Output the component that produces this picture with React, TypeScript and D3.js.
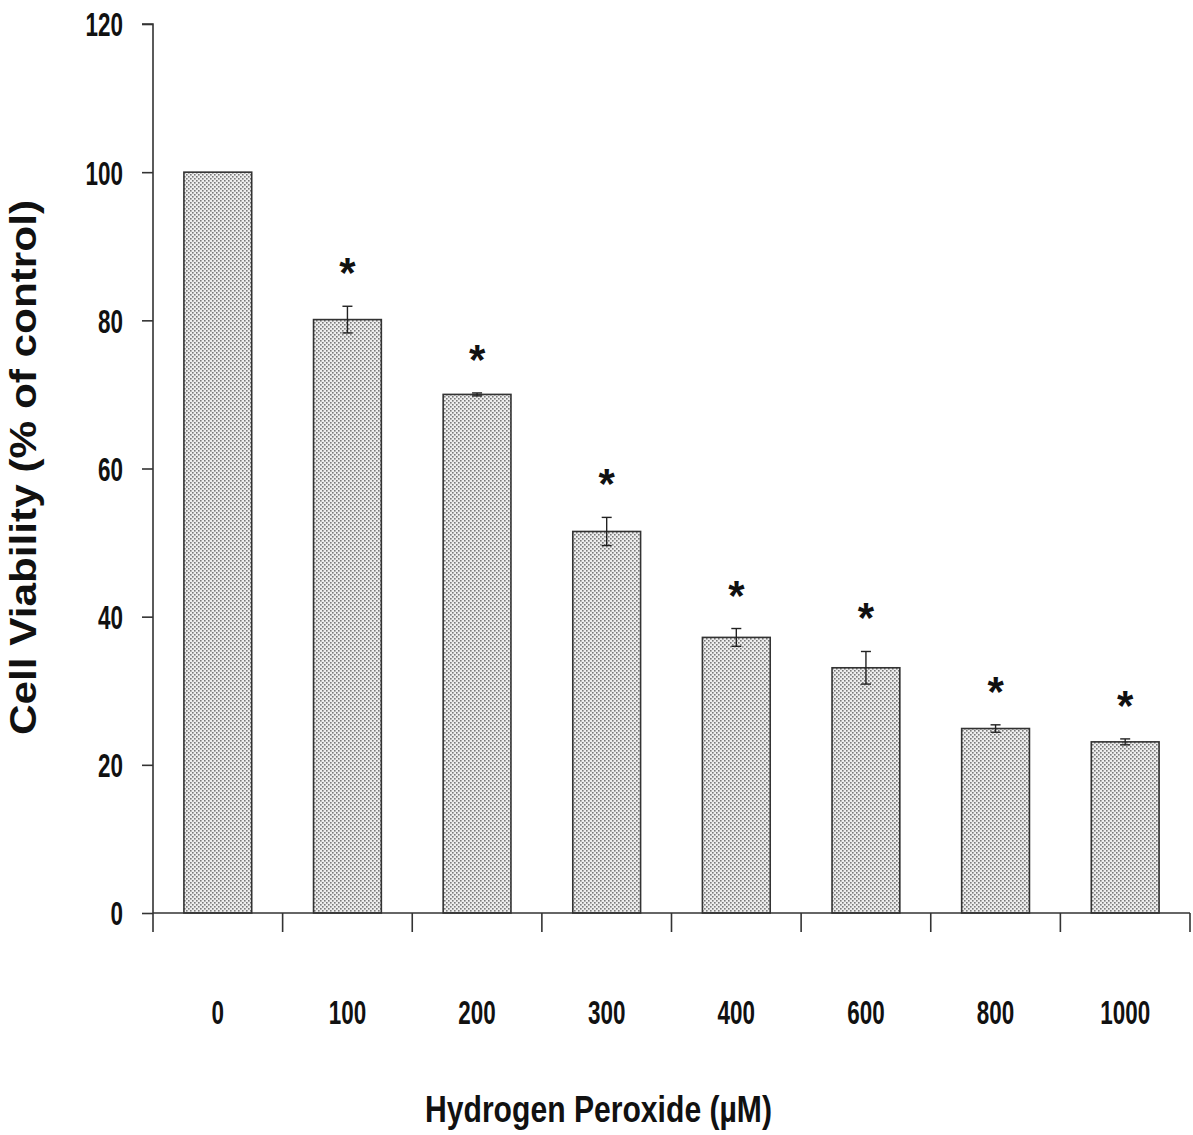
import React, { useEffect, useRef } from "react";
import * as d3 from "d3";

// data
const doses = ["0", "100", "200", "300", "400", "600", "800", "1000"];
const viability = [100, 80.1, 70, 51.5, 37.2, 33.1, 24.9, 23.1];
const errors = [0, 1.8, 0.2, 1.9, 1.2, 2.2, 0.5, 0.4];
const significant = [false, true, true, true, true, true, true, true];
const yTicks = [0, 20, 40, 60, 80, 100, 120];

const W = 1193;
const H = 1135;
const sans = "'Liberation Sans', Arial, sans-serif";
const squeeze = 0.68; // condensed look of the tick labels

export default function App() {
  const ref = useRef<SVGSVGElement>(null);

  useEffect(() => {
    const svg = d3.select(ref.current);
    svg.selectAll("*").remove();

    const x = d3.scaleBand().domain(doses).range([153, 1190]).paddingInner(0.477).paddingOuter(0.2385);
    const y = d3.scaleLinear().domain([0, 120]).range([913, 24]);
    const cx = (i: number) => x(doses[i])! + x.bandwidth() / 2;

    // dotted fill like the original
    const defs = svg.append("defs");
    const pat = defs
      .append("pattern")
      .attr("id", "dots")
      .attr("width", 4)
      .attr("height", 4)
      .attr("patternUnits", "userSpaceOnUse");
    pat.append("rect").attr("width", 4).attr("height", 4).attr("fill", "#eeeeee");
    pat.append("rect").attr("x", 0).attr("y", 0).attr("width", 1.6).attr("height", 1.6).attr("fill", "#7a7a7a");
    pat.append("rect").attr("x", 2).attr("y", 2).attr("width", 1.6).attr("height", 1.6).attr("fill", "#7a7a7a");

    const rows = viability.map((v, i) => ({ dose: doses[i], v, e: errors[i], sig: significant[i], i }));

    // bars
    svg
      .selectAll(".bar")
      .data(rows)
      .enter()
      .append("rect")
      .attr("class", "bar")
      .attr("x", d => x(d.dose)!)
      .attr("y", d => y(d.v))
      .attr("width", x.bandwidth())
      .attr("height", d => y(0) - y(d.v))
      .attr("fill", "url(#dots)")
      .attr("stroke", "#333")
      .attr("stroke-width", 1.6);

    // error bars
    const eb = svg
      .selectAll(".err")
      .data(rows.filter(d => d.e > 0))
      .enter()
      .append("g")
      .attr("class", "err")
      .attr("stroke", "#222")
      .attr("stroke-width", 1.4);
    eb.append("line")
      .attr("x1", d => cx(d.i))
      .attr("x2", d => cx(d.i))
      .attr("y1", d => y(d.v + d.e))
      .attr("y2", d => y(d.v - d.e));
    [1, -1].forEach(s => {
      eb.append("line")
        .attr("x1", d => cx(d.i) - 5)
        .attr("x2", d => cx(d.i) + 5)
        .attr("y1", d => y(d.v + s * d.e))
        .attr("y2", d => y(d.v + s * d.e));
    });

    // significance stars
    svg
      .selectAll(".star")
      .data(rows.filter(d => d.sig))
      .enter()
      .append("text")
      .attr("class", "star")
      .attr("x", d => cx(d.i))
      .attr("y", d => y(d.v + d.e) - 19)
      .attr("text-anchor", "middle")
      .attr("font-family", sans)
      .attr("font-weight", "bold")
      .attr("font-size", 42)
      .attr("fill", "#111")
      .text("*");

    // y axis
    const yAxis = svg
      .append("g")
      .attr("transform", "translate(153,0)")
      .call(d3.axisLeft(y).tickValues(yTicks).tickSize(11).tickPadding(19));
    yAxis.select(".domain").attr("stroke", "#333").attr("stroke-width", 1.6).attr("d", `M-11,${y(120)}H0V${y(0) + 19}`);
    yAxis.selectAll(".tick line").attr("stroke", "#333").attr("stroke-width", 1.6);
    yAxis
      .selectAll(".tick text")
      .attr("font-family", sans)
      .attr("font-weight", "bold")
      .attr("font-size", 33)
      .attr("fill", "#111")
      .attr("x", -30 / squeeze)
      .attr("transform", `scale(${squeeze},1)`)
      .attr("dy", "0.36em");

    // x axis, ticks between categories
    const xg = svg.append("g").attr("stroke", "#333").attr("stroke-width", 1.6);
    xg.append("line")
      .attr("x1", 153)
      .attr("x2", 1190)
      .attr("y1", y(0))
      .attr("y2", y(0));
    xg.selectAll(".xt")
      .data(doses)
      .enter()
      .append("line")
      .attr("x1", d => x(d)! - x.step() * x.paddingOuter() + x.step())
      .attr("x2", d => x(d)! - x.step() * x.paddingOuter() + x.step())
      .attr("y1", y(0))
      .attr("y2", y(0) + 19);

    svg
      .append("g")
      .selectAll(".xl")
      .data(doses)
      .enter()
      .append("text")
      .attr("transform", d => `translate(${x(d)! + x.bandwidth() / 2},1024) scale(${squeeze},1)`)
      .attr("text-anchor", "middle")
      .attr("font-family", sans)
      .attr("font-weight", "bold")
      .attr("font-size", 33)
      .attr("fill", "#111")
      .text(d => d);

    // axis titles
    svg
      .append("text")
      .attr("x", 425)
      .attr("y", 1122)
      .attr("textLength", 347)
      .attr("lengthAdjust", "spacingAndGlyphs")
      .attr("font-family", sans)
      .attr("font-weight", "bold")
      .attr("font-size", 37)
      .attr("fill", "#111")
      .text("Hydrogen Peroxide (µM)");

    svg
      .append("text")
      .attr("transform", "translate(36,735) rotate(-90)")
      .attr("textLength", 535)
      .attr("lengthAdjust", "spacingAndGlyphs")
      .attr("font-family", sans)
      .attr("font-weight", "bold")
      .attr("font-size", 36)
      .attr("fill", "#111")
      .text("Cell Viability (% of control)");
  }, []);

  return (
    <div style={{ position: "absolute", left: 0, top: 0 }}>
      <svg ref={ref} width={W} height={H} style={{ display: "block", background: "#fff" }} />
    </div>
  );
}
